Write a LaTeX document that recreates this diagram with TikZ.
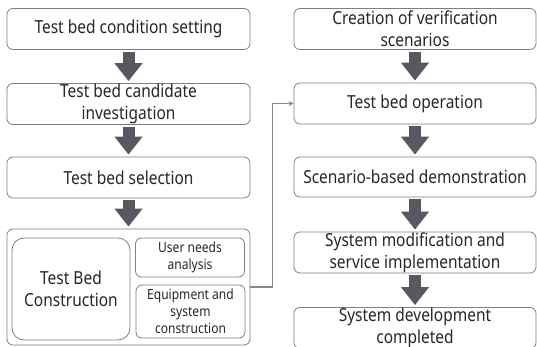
\documentclass[tikz,border=0pt]{standalone}
\usepackage{fontspec}
\setmainfont{Noto Sans}[FakeStretch=0.86]
\usetikzlibrary{arrows.meta,positioning}
\definecolor{boxgray}{RGB}{127,127,127}
\definecolor{arrgray}{RGB}{87,89,96}
\definecolor{txtgray}{RGB}{38,38,38}
\definecolor{linkgray}{RGB}{135,135,135}
\tikzstyle{stepbox} = [draw=boxgray,line width=0.8pt,rounded corners=6pt,minimum width=243pt,minimum height=41pt,inner sep=0pt,align=center,text=txtgray,font=\fontsize{18}{22}\selectfont]
\tikzstyle{subbox} = [stepbox,minimum width=109pt,font=\fontsize{14}{17}\selectfont]
\tikzstyle{blockarrow} = [arrgray,line width=12pt,-{Triangle[width=27pt,length=18pt]},shorten <=2pt,shorten >=2pt]
\tikzstyle{link} = [linkgray,line width=1.3pt,-{Stealth[length=5pt,width=5pt]}]

\begin{document}
\begin{tikzpicture}[x=1pt,y=-1pt]
\useasboundingbox (0,0) rectangle (537,347);
\clip (0,0) rectangle (537,347);

% Left column
\node[stepbox] (cond) at (128.5,29) {Test bed condition setting};
\node[stepbox] (cand) at (128.5,104) {Test bed candidate\\investigation};
\node[stepbox] (sel) at (128.5,177.5) {Test bed selection};
\node[stepbox,minimum height=116pt] (constr) at (128.5,287) {};
\node[stepbox,minimum width=118pt,minimum height=102pt,rounded corners=12pt,font=\fontsize{18}{22}\selectfont] (tbc) at (71,289) {Test Bed\\Construction};
\node[subbox,minimum height=39pt] (needs) at (190,257.5) {User needs\\analysis};
\node[subbox,minimum height=53pt] (equip) at (190.5,311.5) {Equipment and\\system\\construction};

% Right column
\node[stepbox,minimum width=242pt] (scen) at (415,29) {Creation of verification\\scenarios};
\node[stepbox,minimum width=242pt] (oper) at (415,103.5) {Test bed operation};
\node[stepbox,minimum width=242pt,minimum height=40pt] (demo) at (415,177) {Scenario-based demonstration};
\node[stepbox,minimum width=242pt] (modif) at (415,252.5) {System modification and\\service implementation};
\node[stepbox,minimum width=242pt] (done) at (415,328) {System development\\completed};

% Arrows
\draw[blockarrow] (cond) -- (cand);
\draw[blockarrow] (cand) -- (sel);
\draw[blockarrow] (sel) -- (constr);
\draw[blockarrow] (scen) -- (oper);
\draw[blockarrow] (oper) -- (demo);
\draw[blockarrow] (demo) -- (modif);
\draw[blockarrow] (modif) -- (done);
\draw[link] (constr.east) -- ++(22,0) |- (oper.west);
\end{tikzpicture}
\end{document}
